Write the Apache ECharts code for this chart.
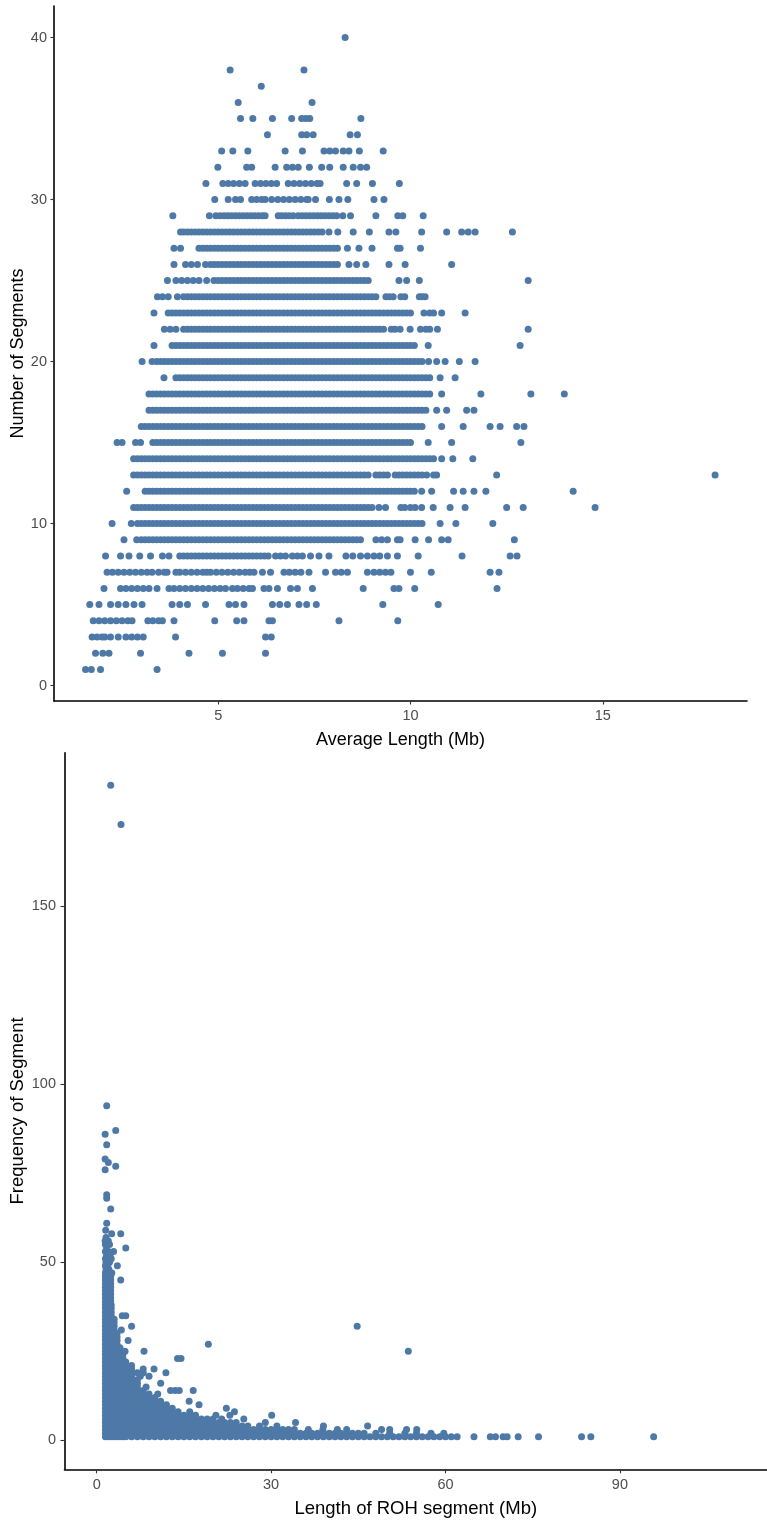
<!DOCTYPE html>
<html><head><meta charset="utf-8">
<script src="https://cdn.jsdelivr.net/npm/echarts@6/dist/echarts.min.js"></script>
<style>html,body{margin:0;padding:0;background:#fff}#c{width:767px;height:1522px}</style>
</head><body><div id="c"></div>
<script>
// ---------- Top panel: Number of Segments (y) vs Average Length in Mb (x) ----------
const segmentCounts = [1,2,3,4,5,6,7,8,9,10,11,12,13,14,15,16,17,18,19,20,21,22,23,24,25,26,27,28,29,30,31,32,33,34,35,36,37,38,40];
const averageLengthByCount = [
"1.55 1.7 1.94 3.41",
"1.81 2.0 2.16 2.98 4.24 5.11 6.23",
"1.72 1.85 1.98 2.05 2.2 2.4 2.6 2.75 2.9 3.05 3.89 6.23 6.38",
"1.75 1.9 2.05 2.2 2.35 2.5 2.65 2.76 3.17 3.3 3.45 3.55 3.85 4.91 5.48 5.67 6.32 6.41 8.14 9.67",
"1.66 1.9 2.2 2.4 2.6 2.81 3.02 3.8 4.0 4.2 4.67 5.28 5.45 5.67 6.41 6.6 6.8 7.1 7.3 7.55 9.28 10.72",
"2.03 2.46 2.6 2.75 2.9 3.05 3.2 3.41 3.72 3.85 4.0 4.15 4.3 4.45 4.6 4.75 4.9 5.05 5.19 5.37 5.5 5.65 5.8 5.89 6.19 6.32 6.54 6.88 7.06 7.45 8.77 9.57 9.7 10.11 12.25",
"2.11 2.25 2.4 2.55 2.7 2.85 3.0 3.15 3.28 3.45 3.6 3.67 3.9 4.0 4.15 4.3 4.45 4.6 4.7 4.8 4.95 5.1 5.25 5.4 5.55 5.7 5.82 5.93 6.15 6.36 6.71 6.85 7.0 7.15 7.36 7.79 8.05 8.2 8.36 8.88 9.05 9.2 9.35 9.49 10.0 10.54 12.07 12.3",
"2.07 2.46 2.68 2.96 3.24 3.55 3.72 4.0 4.1 4.2 4.3 4.4 4.5 4.6 4.7 4.8 4.9 5.0 5.1 5.2 5.3 5.4 5.5 5.6 5.7 5.8 5.9 6.0 6.1 6.2 6.3 6.49 6.62 6.75 6.93 7.06 7.19 7.4 7.62 7.88 8.32 8.5 8.7 8.88 9.05 9.2 9.4 9.66 10.2 11.34 12.59 12.77",
"2.55 2.88 3.0 3.1 3.2 3.3 3.4 3.5 3.6 3.7 3.8 3.9 4.0 4.1 4.2 4.3 4.4 4.5 4.6 4.7 4.8 4.9 5.0 5.1 5.2 5.3 5.4 5.5 5.6 5.7 5.8 5.9 6.0 6.1 6.2 6.3 6.4 6.5 6.6 6.7 6.8 6.9 7.0 7.1 7.2 7.3 7.4 7.5 7.6 7.7 7.8 7.9 8.0 8.1 8.2 8.3 8.4 8.5 8.6 8.7 9.1 9.25 9.4 9.66 9.73 10.12 10.47 10.81 10.98 12.7",
"2.24 2.74 2.9 3.0 3.1 3.2 3.3 3.4 3.5 3.6 3.7 3.8 3.9 4.0 4.1 4.2 4.3 4.4 4.5 4.6 4.7 4.8 4.9 5.0 5.1 5.2 5.3 5.4 5.5 5.6 5.7 5.8 5.9 6.0 6.1 6.2 6.3 6.4 6.5 6.6 6.7 6.8 6.9 7.0 7.1 7.2 7.3 7.4 7.5 7.6 7.7 7.8 7.9 8.0 8.1 8.2 8.3 8.4 8.5 8.6 8.7 8.8 8.9 9.0 9.1 9.2 9.3 9.4 9.5 9.6 9.7 9.8 9.9 10.0 10.1 10.2 10.3 10.77 11.18 12.14",
"2.8 2.9 3.0 3.1 3.2 3.3 3.4 3.5 3.6 3.7 3.8 3.9 4.0 4.1 4.2 4.3 4.4 4.5 4.6 4.7 4.8 4.9 5.0 5.1 5.2 5.3 5.4 5.5 5.6 5.7 5.8 5.9 6.0 6.1 6.2 6.3 6.4 6.5 6.6 6.7 6.8 6.9 7.0 7.1 7.2 7.3 7.4 7.5 7.6 7.7 7.8 7.9 8.0 8.1 8.2 8.3 8.4 8.5 8.6 8.7 8.8 8.9 9.0 9.18 9.35 9.75 9.85 10.0 10.12 10.29 10.59 11.03 11.42 12.5 12.93 14.8",
"2.62 3.1 3.2 3.3 3.4 3.5 3.6 3.7 3.8 3.9 4.0 4.1 4.2 4.3 4.4 4.5 4.6 4.7 4.8 4.9 5.0 5.1 5.2 5.3 5.4 5.5 5.6 5.7 5.8 5.9 6.0 6.1 6.2 6.3 6.4 6.5 6.6 6.7 6.8 6.9 7.0 7.1 7.2 7.3 7.4 7.5 7.6 7.7 7.8 7.9 8.0 8.1 8.2 8.3 8.4 8.5 8.6 8.7 8.8 8.9 9.0 9.1 9.2 9.3 9.4 9.5 9.6 9.7 9.8 9.9 10.0 10.1 10.29 10.55 11.12 11.37 11.65 11.96 14.23",
"2.8 2.9 3.0 3.1 3.2 3.3 3.4 3.5 3.6 3.7 3.8 3.9 4.0 4.1 4.2 4.3 4.4 4.5 4.6 4.7 4.8 4.9 5.0 5.1 5.2 5.3 5.4 5.5 5.6 5.7 5.8 5.9 6.0 6.1 6.2 6.3 6.4 6.5 6.6 6.7 6.8 6.9 7.0 7.1 7.2 7.3 7.4 7.5 7.6 7.7 7.8 7.9 8.0 8.1 8.2 8.3 8.4 8.5 8.6 8.7 8.8 8.9 9.1 9.2 9.3 9.4 9.6 9.7 9.8 9.9 10.0 10.1 10.2 10.3 10.42 10.6 10.68 12.24 17.92",
"2.8 2.9 3.0 3.1 3.2 3.3 3.4 3.5 3.6 3.7 3.8 3.9 4.0 4.1 4.2 4.3 4.4 4.5 4.6 4.7 4.8 4.9 5.0 5.1 5.2 5.3 5.4 5.5 5.6 5.7 5.8 5.9 6.0 6.1 6.2 6.3 6.4 6.5 6.6 6.7 6.8 6.9 7.0 7.1 7.2 7.3 7.4 7.5 7.6 7.7 7.8 7.9 8.0 8.1 8.2 8.3 8.4 8.5 8.6 8.7 8.8 8.9 9.0 9.1 9.2 9.3 9.4 9.5 9.6 9.7 9.8 9.9 10.0 10.1 10.2 10.3 10.4 10.5 10.6 10.81 11.1 11.62",
"2.37 2.5 2.85 2.98 3.3 3.4 3.5 3.6 3.7 3.8 3.9 4.0 4.1 4.2 4.3 4.4 4.5 4.6 4.7 4.8 4.9 5.0 5.1 5.2 5.3 5.4 5.5 5.6 5.7 5.8 5.9 6.0 6.1 6.2 6.3 6.4 6.5 6.6 6.7 6.8 6.9 7.0 7.1 7.2 7.3 7.4 7.5 7.6 7.7 7.8 7.9 8.0 8.1 8.2 8.3 8.4 8.5 8.6 8.7 8.8 8.9 9.0 9.1 9.2 9.3 9.4 9.5 9.6 9.7 9.8 9.9 10.0 10.46 11.07 12.87",
"3.0 3.1 3.2 3.3 3.4 3.5 3.6 3.7 3.8 3.9 4.0 4.1 4.2 4.3 4.4 4.5 4.6 4.7 4.8 4.9 5.0 5.1 5.2 5.3 5.4 5.5 5.6 5.7 5.8 5.9 6.0 6.1 6.2 6.3 6.4 6.5 6.6 6.7 6.8 6.9 7.0 7.1 7.2 7.3 7.4 7.5 7.6 7.7 7.8 7.9 8.0 8.1 8.2 8.3 8.4 8.5 8.6 8.7 8.8 8.9 9.0 9.1 9.2 9.3 9.4 9.5 9.6 9.7 9.8 9.9 10.0 10.1 10.2 10.3 10.81 11.37 12.07 12.33 12.76 12.95",
"3.2 3.3 3.4 3.5 3.6 3.7 3.8 3.9 4.0 4.1 4.2 4.3 4.4 4.5 4.6 4.7 4.8 4.9 5.0 5.1 5.2 5.3 5.4 5.5 5.6 5.7 5.8 5.9 6.0 6.1 6.2 6.3 6.4 6.5 6.6 6.7 6.8 6.9 7.0 7.1 7.2 7.3 7.4 7.5 7.6 7.7 7.8 7.9 8.0 8.1 8.2 8.3 8.4 8.5 8.6 8.7 8.8 8.9 9.0 9.1 9.2 9.3 9.4 9.5 9.6 9.7 9.8 9.9 10.0 10.1 10.2 10.3 10.4 10.68 10.94 11.46 11.65",
"3.2 3.3 3.4 3.5 3.6 3.7 3.8 3.9 4.0 4.1 4.2 4.3 4.4 4.5 4.6 4.7 4.8 4.9 5.0 5.1 5.2 5.3 5.4 5.5 5.6 5.7 5.8 5.9 6.0 6.1 6.2 6.3 6.4 6.5 6.6 6.7 6.8 6.9 7.0 7.1 7.2 7.3 7.4 7.5 7.6 7.7 7.8 7.9 8.0 8.1 8.2 8.3 8.4 8.5 8.6 8.7 8.8 8.9 9.0 9.1 9.2 9.3 9.4 9.5 9.6 9.7 9.8 9.9 10.0 10.1 10.2 10.3 10.4 10.5 10.81 11.83 13.13 14.0",
"3.59 3.9 4.0 4.1 4.2 4.3 4.4 4.5 4.6 4.7 4.8 4.9 5.0 5.1 5.2 5.3 5.4 5.5 5.6 5.7 5.8 5.9 6.0 6.1 6.2 6.3 6.4 6.5 6.6 6.7 6.8 6.9 7.0 7.1 7.2 7.3 7.4 7.5 7.6 7.7 7.8 7.9 8.0 8.1 8.2 8.3 8.4 8.5 8.6 8.7 8.8 8.9 9.0 9.1 9.2 9.3 9.4 9.5 9.6 9.7 9.8 9.9 10.0 10.1 10.2 10.3 10.4 10.5 10.77 11.16",
"3.02 3.28 3.4 3.5 3.6 3.7 3.8 3.9 4.0 4.1 4.2 4.3 4.4 4.5 4.6 4.7 4.8 4.9 5.0 5.1 5.2 5.3 5.4 5.5 5.6 5.7 5.8 5.9 6.0 6.1 6.2 6.3 6.4 6.5 6.6 6.7 6.8 6.9 7.0 7.1 7.2 7.3 7.4 7.5 7.6 7.7 7.8 7.9 8.0 8.1 8.2 8.3 8.4 8.5 8.6 8.7 8.8 8.9 9.0 9.1 9.2 9.3 9.4 9.5 9.6 9.7 9.8 9.9 10.0 10.1 10.2 10.3 10.47 10.68 10.9 11.27 11.68",
"3.33 3.8 3.9 4.0 4.1 4.2 4.3 4.4 4.5 4.6 4.7 4.8 4.9 5.0 5.1 5.2 5.3 5.4 5.5 5.6 5.7 5.8 5.9 6.0 6.1 6.2 6.3 6.4 6.5 6.6 6.7 6.8 6.9 7.0 7.1 7.2 7.3 7.4 7.5 7.6 7.7 7.8 7.9 8.0 8.1 8.2 8.3 8.4 8.5 8.6 8.7 8.8 8.9 9.0 9.1 9.2 9.3 9.4 9.5 9.6 9.7 9.8 9.9 10.0 10.1 10.46 12.85",
"3.6 3.75 3.9 4.1 4.2 4.3 4.4 4.5 4.6 4.7 4.8 4.9 5.0 5.1 5.2 5.3 5.4 5.5 5.6 5.7 5.8 5.9 6.0 6.1 6.2 6.3 6.4 6.5 6.6 6.7 6.8 6.9 7.0 7.1 7.2 7.3 7.4 7.5 7.6 7.7 7.8 7.9 8.0 8.1 8.2 8.3 8.4 8.5 8.6 8.7 8.8 8.9 9.0 9.1 9.2 9.3 9.5 9.6 9.73 9.99 10.26 10.4 10.5 10.7 13.06",
"3.33 3.7 3.8 3.9 4.0 4.1 4.2 4.3 4.4 4.5 4.6 4.7 4.8 4.9 5.0 5.1 5.2 5.3 5.4 5.5 5.6 5.7 5.8 5.9 6.0 6.1 6.2 6.3 6.4 6.5 6.6 6.7 6.8 6.9 7.0 7.1 7.2 7.3 7.4 7.5 7.6 7.7 7.8 7.9 8.0 8.1 8.2 8.3 8.4 8.5 8.6 8.7 8.8 8.9 9.0 9.1 9.2 9.3 9.4 9.5 9.6 9.7 9.8 9.9 10.0 10.35 10.5 10.6 10.81 11.42",
"3.42 3.55 3.7 3.94 4.1 4.2 4.3 4.4 4.5 4.6 4.7 4.8 4.9 5.0 5.1 5.2 5.3 5.4 5.5 5.6 5.7 5.8 5.9 6.0 6.1 6.2 6.3 6.4 6.5 6.6 6.7 6.8 6.9 7.0 7.1 7.2 7.3 7.4 7.5 7.6 7.7 7.8 7.9 8.0 8.1 8.2 8.3 8.4 8.5 8.6 8.7 8.8 8.9 9.0 9.1 9.36 9.45 9.55 9.75 9.85 10.23 10.3 10.38",
"3.68 3.9 4.05 4.2 4.35 4.5 4.7 4.89 5.0 5.1 5.2 5.3 5.4 5.5 5.6 5.7 5.8 5.9 6.0 6.1 6.2 6.3 6.4 6.5 6.6 6.7 6.8 6.9 7.0 7.1 7.2 7.3 7.4 7.5 7.6 7.7 7.8 7.9 8.0 8.1 8.2 8.3 8.4 8.5 8.6 8.7 8.8 8.9 9.7 9.9 10.23 13.06",
"3.85 4.15 4.3 4.46 4.67 4.8 4.9 5.0 5.1 5.2 5.3 5.4 5.5 5.6 5.7 5.8 5.9 6.0 6.1 6.2 6.3 6.4 6.5 6.6 6.7 6.8 6.9 7.0 7.1 7.2 7.3 7.4 7.5 7.6 7.7 7.8 7.9 8.0 8.1 8.4 8.6 8.84 9.44 9.86 11.07",
"3.85 4.02 4.5 4.6 4.7 4.8 4.9 5.0 5.1 5.2 5.3 5.4 5.5 5.6 5.7 5.8 5.9 6.0 6.1 6.2 6.3 6.4 6.5 6.6 6.7 6.8 6.9 7.0 7.1 7.2 7.3 7.4 7.5 7.6 7.7 7.8 7.9 8.0 8.1 8.36 8.66 9.0 9.66 9.73 10.26",
"4.02 4.1 4.2 4.3 4.4 4.5 4.6 4.7 4.8 4.9 5.0 5.1 5.2 5.3 5.4 5.5 5.6 5.7 5.8 5.9 6.0 6.1 6.2 6.3 6.4 6.5 6.6 6.7 6.8 6.9 7.0 7.1 7.2 7.3 7.4 7.5 7.6 7.7 7.88 8.11 8.51 8.93 9.44 9.62 10.29 10.94 11.33 11.5 11.68 12.65",
"3.82 4.77 4.94 5.05 5.15 5.25 5.35 5.45 5.55 5.65 5.75 5.85 5.95 6.05 6.15 6.22 6.56 6.65 6.75 6.85 6.95 7.08 7.18 7.28 7.38 7.48 7.58 7.68 7.78 7.88 7.98 8.08 8.24 8.44 9.1 9.67 9.8 10.33",
"4.91 5.26 5.45 5.58 5.87 6.0 6.13 6.22 6.39 6.55 6.7 6.85 7.0 7.15 7.3 7.34 7.53 7.89 8.14 8.37 9.05 9.31",
"4.68 5.12 5.26 5.4 5.55 5.7 5.96 6.1 6.24 6.38 6.52 6.82 6.97 7.12 7.27 7.42 7.57 7.65 8.34 8.6 9.01 9.71",
"4.99 5.74 5.87 6.48 6.78 6.93 7.08 7.37 7.69 7.9 8.25 8.51 8.7 8.86",
"5.09 5.38 5.77 6.74 7.19 7.75 7.9 8.05 8.25 8.4 8.67 9.29",
"6.28 7.17 7.3 7.47 8.43 8.62",
"5.58 5.9 6.41 6.91 7.17 7.28 7.38 8.71",
"5.52 7.44",
"6.12",
"5.31 7.23",
"8.3"
];
const topXTicks = [5, 10, 15];
const topYTicks = [0, 10, 20, 30, 40];

// ---------- Bottom panel: Frequency of Segment (y) vs Length of ROH segment in Mb (x) ----------
const rohFrequency = [1,2,3,4,5,6,7,8,9,10,11,12,13,14,15,16,17,18,19,20,21,22,23,24,25,26,27,28,29,30,31,32,33,34,35,36,37,38,39,40,41,42,43,44,45,46,47,48,49,50,51,52,53,54,55,56,57,58,59,61,65,68,69,76,77,78,79,83,86,87,94,173,184];
const rohLengthByFrequency = [
"1.5 2 2.5 3 3.5 4 4.5 5 6 7 8 9 10 11 12 13 14 15 16 17 18 19 20 21 22 23 24 25 26 27 28 29 30 31 32 33 34 35 36 37 38 39 40 41 42 43 44 45 46 47 48 49 50 51 52 53 54 55 56 57 58 59 60 61 62 64.9 67.7 68.6 69.9 70.6 72.5 76.0 83.4 85.0 95.8",
"1.5 2 2.5 3 3.5 4 4.5 5 6 7 8 9 10 11 12 13 14 15 16 17 18 19 20 21 22 23 24 25 26 27 28 29 30 31 32 33 34 35 36 37 38 39 40 41 42 43 44 45 46 48 50.4 53 55 57.5 59.7",
"1.5 2 2.5 3 3.5 4 4.5 5 6 7 8 9 10 11 12 13 14 15 16 17 18 19 20 21 22 23 24 25 26 27 28 29 30 31 32 33 34 36.4 38.9 41.4 43 49.0 50.4 53.3 55.05",
"1.5 2 2.5 3 3.5 4 4.5 5 6 7 8 9 10 11 12 13 14 15 16 17 18 19 20 21 22 23 24 25 26 28 31 39.0 46.6",
"1.5 2 2.5 3 3.5 4 4.5 5 6 7 8 9 10 11 12 13 14 15 16 17 18 19 20 21 22 23 24 29.0 34.2",
"1.5 2 2.5 3 3.5 4 4.5 5 6 7 8 9 10 11 12 13 14 15 16 17 18 19 20 21.5 25.3",
"1.5 2 2.5 3 3.5 4 4.5 5 6 7 8 9 10 11 12 13 14 15 16 17 20.5 22.9 30.1",
"1.5 2 2.5 3 3.5 4 4.5 5 6 7 8 9 10 11 12 13 14 16 23.7",
"1.5 2 2.5 3 3.5 4 4.5 5 6 7 8 9 10 11 12 13 22.3",
"1.5 2 2.5 3 3.5 4 4.5 5 6 7 8 9 10 11 12 17.6",
"1.5 2 2.5 3 3.5 4 4.5 5 6 7 8 9 10 11 15.9",
"1.5 2 2.5 3 3.5 4 4.5 5 6 7 8 9 10",
"1.5 2 2.5 3 3.5 4 4.5 5 6 7 8 9 10.5",
"1.5 2 2.5 3 3.5 4 4.5 5 6 7 8 12.7 13.5 14.2 16.6",
"1.5 2 2.5 3 3.5 4 4.5 5 6 7 8.5",
"1.5 2 2.5 3 3.5 4 4.5 5 6 7 11.0",
"1.5 2 2.5 3 3.5 4 4.5 5 6 7",
"1.5 2 2.5 3 3.5 4 4.5 5 6 7.5 9",
"1.5 2 2.5 3 3.5 4 4.5 5 6 7 8 11.9",
"1.5 2 2.5 3 3.5 4 4.5 5 6 8 9.86",
"1.5 2 2.5 3 3.5 4 4.5 5 6",
"1.5 2 2.5 3 3.5 4 4.5 5",
"1.5 2 2.5 3 3.5 4 4.5 13.9 14.5",
"1.5 2 2.5 3 3.5 4 4.5",
"1.5 2 2.5 3 3.5 4 4.87 8.14 53.6",
"1.5 2 2.5 3 3.5 4",
"1.5 2 2.5 3 3.5 19.2",
"1.5 2 2.5 3 3.5 5.4",
"1.5 2 2.5 3 3.5",
"1.5 2 2.5 3 3.5",
"1.5 2 2.5 3 4.24",
"1.5 2 2.5 3 6.0 44.8",
"1.5 2 2.5 3",
"1.5 2 2.5 3",
"1.5 2 2.5 4.4 5.0",
"1.5 2 2.5",
"1.5 2 2.5",
"1.5 2 2.5",
"1.5 2 2.4",
"1.5 2 2.4",
"1.5 2 2.4",
"1.5 2 2.4",
"1.5 2 2.4",
"1.5 2 2.4",
"1.5 2 2.4 4.13",
"1.5 2 2.4",
"1.5 2 2.6",
"1.6 2.1",
"1.5 1.9 3.55",
"1.6 2.2",
"1.5 2.0 2.5",
"1.7 2.3",
"1.5 2.0 2.9",
"1.7 5.0",
"1.5 2.2",
"1.45 2.0",
"1.6",
"2.58 4.13",
"1.55",
"1.72",
"2.41",
"1.72",
"1.72",
"1.45",
"3.27",
"2.0",
"1.45",
"1.72",
"1.45",
"3.27",
"1.72",
"4.18",
"2.41"
];
const bottomXTicks = [0, 30, 60, 90];
const bottomYTicks = [0, 50, 100, 150];

function rowsToPoints(yValues, xStrings) {
  const pts = [];
  yValues.forEach((y, i) => {
    xStrings[i].trim().split(/\s+/).forEach(s => pts.push([parseFloat(s), y]));
  });
  return pts;
}

const POINT = '#4e79a7';
const FONT = 'Liberation Sans, Arial, Helvetica, sans-serif';

function valueAxis(opts) {
  return {
    type: 'value',
    gridIndex: opts.grid,
    min: opts.min, max: opts.max,
    name: opts.name,
    nameLocation: 'middle',
    nameGap: opts.nameGap,
    nameMoveOverlap: false,
    nameTextStyle: { fontSize: opts.nameSize, color: '#000', fontFamily: FONT },
    axisLine: { show: true, onZero: false, lineStyle: { color: '#000', width: 1.6 } },
    axisTick: { show: true, customValues: opts.ticks, length: opts.tickLen, lineStyle: { color: '#333', width: 1.1 } },
    axisLabel: { customValues: opts.ticks, fontSize: opts.labelSize, color: '#4d4d4d', fontFamily: FONT, margin: opts.margin },
    splitLine: { show: false }
  };
}

const chart = echarts.init(document.getElementById('c'), null, { renderer: 'canvas' });
chart.setOption({
  animation: false,
  backgroundColor: '#fff',
  grid: [
    { left: 54, top: 6, width: 693, height: 695, containLabel: false, outerBoundsMode: 'none' },
    { left: 64.5, top: 752.7, width: 702.5, height: 716.6, containLabel: false, outerBoundsMode: 'none' }
  ],
  xAxis: [
    valueAxis({ grid: 0, min: 0.73, max: 18.75, ticks: topXTicks, name: 'Average Length (Mb)', nameGap: 30, nameSize: 18, labelSize: 14.5, margin: 7, tickLen: 3.5 }),
    valueAxis({ grid: 1, min: -5.54, max: 115.3, ticks: bottomXTicks, name: 'Length of ROH segment (Mb)', nameGap: 30, nameSize: 18.5, labelSize: 14.5, margin: 8.5, tickLen: 4 })
  ],
  yAxis: [
    valueAxis({ grid: 0, min: -0.95, max: 41.95, ticks: topYTicks, name: 'Number of Segments', nameGap: 27, nameSize: 18, labelSize: 14.5, margin: 7, tickLen: 3.5 }),
    valueAxis({ grid: 1, min: -8.15, max: 193.15, ticks: bottomYTicks, name: 'Frequency of Segment', nameGap: 37.5, nameSize: 18.5, labelSize: 14.5, margin: 8.5, tickLen: 4 })
  ],
  series: [
    { type: 'scatter', xAxisIndex: 0, yAxisIndex: 0, data: rowsToPoints(segmentCounts, averageLengthByCount),
      symbol: 'circle', symbolSize: 7, itemStyle: { color: POINT, opacity: 1 }, silent: true, progressive: 0, large: false },
    { type: 'scatter', xAxisIndex: 1, yAxisIndex: 1, data: rowsToPoints(rohFrequency, rohLengthByFrequency),
      symbol: 'circle', symbolSize: 7, itemStyle: { color: POINT, opacity: 1 }, silent: true, progressive: 0, large: false }
  ]
});
</script></body></html>
